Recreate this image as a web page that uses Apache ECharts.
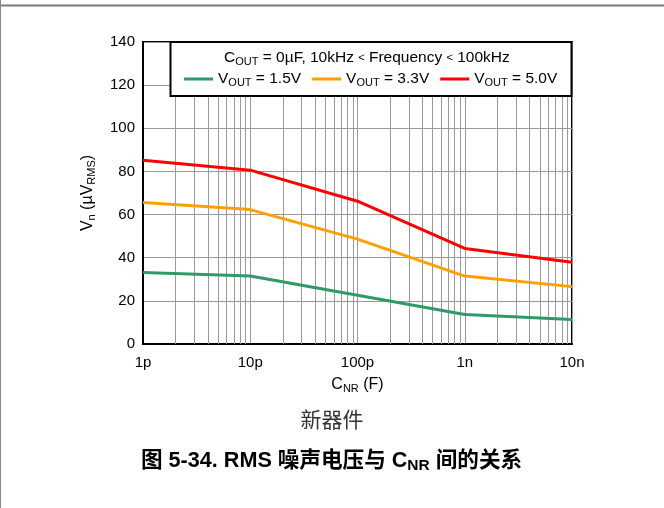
<!DOCTYPE html>
<html>
<head>
<meta charset="utf-8">
<script src="https://cdn.jsdelivr.net/npm/echarts@6/dist/echarts.min.js"></script>
<style>
  html, body { margin: 0; padding: 0; background: #fff; }
  #chart { width: 664px; height: 508px; }
</style>
</head>
<body>
<div id="chart"></div>
<script>
// Noise capacitor values (F) and RMS output noise (µV) for each output voltage
const cnr = [1e-12, 1e-11, 1e-10, 1e-9, 1e-8];
const vout15 = [33.2, 31.5, 22.6, 13.7, 11.4];
const vout33 = [65.6, 62.3, 48.6, 31.5, 26.6];
const vout50 = [85.2, 80.6, 66.2, 44.3, 37.9];

const seriesNames = ['VOUT = 1.5V', 'VOUT = 3.3V', 'VOUT = 5.0V'];
const seriesColors = ['#2e9a68', '#ffa000', '#ff0000'];
const yTicks = [0, 20, 40, 60, 80, 100, 120, 140];
const xTickLabels = { '-12': '1p', '-11': '10p', '-10': '100p', '-9': '1n', '-8': '10n' };

// Minor log gridlines at 2..9 within each decade
const minorGrid = [];
for (let d = -12; d < -8; d++) {
  for (let m = 2; m <= 9; m++) minorGrid.push(m * Math.pow(10, d));
}

const FONT = '"Liberation Sans", Arial, sans-serif';
const GRID_COLOR = '#9a9a9a';

function pairs(ys) { return cnr.map((x, i) => [x, ys[i]]); }

const chart = echarts.init(document.getElementById('chart'), null, { renderer: 'canvas' });

const lineSeries = [vout15, vout33, vout50].map((ys, i) => ({
  name: seriesNames[i],
  type: 'line',
  data: pairs(ys),
  showSymbol: false,
  symbol: 'none',
  z: 5,
  lineStyle: { color: seriesColors[i], width: 3 },
  itemStyle: { color: seriesColors[i] }
}));

function richSet(main, sub, drop) {
  return {
    n: { fontSize: main, fontFamily: FONT, color: '#000' },
    s: { fontSize: sub, fontFamily: FONT, color: '#000', padding: [drop, 0, 0, 0] },
    lt: { fontSize: sub, fontFamily: FONT, color: '#999' }
  };
}
const axisRich = richSet(16, 11, 8);
const legendRich = richSet(15.5, 11, 7);

chart.setOption({
  animation: false,
  backgroundColor: '#fff',
  grid: {
    left: 143, right: 92, top: 42, bottom: 164,
    show: true, borderColor: '#000', borderWidth: 2, backgroundColor: '#fff'
  },
  xAxis: {
    type: 'log',
    logBase: 10,
    min: 1e-12,
    max: 1e-8,
    name: '{n|C}{s|NR}{n| (F)}',
    nameLocation: 'middle',
    nameGap: 31,
    nameTextStyle: { rich: axisRich },
    axisLine: { show: true, lineStyle: { color: '#000', width: 2 } },
    axisTick: { show: false },
    axisLabel: {
      fontSize: 15, fontFamily: FONT, color: '#000', margin: 11,
      formatter: v => xTickLabels[Math.round(Math.log10(v))] || ''
    },
    splitLine: { show: true, lineStyle: { color: GRID_COLOR, width: 1 } }
  },
  yAxis: {
    type: 'value',
    min: yTicks[0],
    max: yTicks[yTicks.length - 1],
    interval: 20,
    name: '{n|V}{s|n}{n| (µV}{s|RMS}{n|)}',
    nameLocation: 'middle',
    nameRotate: 90,
    nameGap: 46,
    nameTextStyle: { rich: axisRich },
    axisLine: { show: true, lineStyle: { color: '#000', width: 2 } },
    axisTick: { show: false },
    axisLabel: { fontSize: 15, fontFamily: FONT, color: '#000', margin: 8 },
    splitLine: { show: true, lineStyle: { color: GRID_COLOR, width: 1 } }
  },
  legend: {
    data: seriesNames,
    left: 179,
    top: 66,
    z: 200,
    itemWidth: 29,
    itemHeight: 3,
    itemGap: 11,
    icon: 'rect',
    formatter: name => {
      const val = name.split('=')[1].trim();
      return '{n|V}{s|OUT}{n| = ' + val + '}';
    },
    textStyle: { rich: legendRich }
  },
  graphic: [
    // page frame
    { type: 'line', shape: { x1: 0, y1: 5.5, x2: 664, y2: 5.5 }, style: { stroke: '#7a7a7a', lineWidth: 2 }, z: 100 },
    { type: 'line', shape: { x1: 0.5, y1: 0, x2: 0.5, y2: 508 }, style: { stroke: '#888', lineWidth: 1 }, z: 100 },
    // legend box
    { type: 'rect', shape: { x: 170.5, y: 42, width: 401, height: 54 },
      style: { fill: '#fff', stroke: '#000', lineWidth: 2 }, z: 50 },
    { type: 'text', left: 224, top: 50, z: 60,
      style: {
        text: '{n|C}{s|OUT}{n| = 0µF, 10kHz }{lt|<}{n| Frequency }{lt|<}{n| 100kHz}',
        rich: legendRich
      } },
    // captions
    { type: 'text', left: 'center', top: 409, z: 60,
      style: { text: '新器件', font: '21px "Noto Sans CJK SC", sans-serif', fill: '#333' } },
    { type: 'text', left: 141, top: 450, z: 60,
      style: {
        text: '{b|图 5-34. RMS 噪声电压与 C}{bs|NR}{b| 间的关系}',
        rich: {
          b: { fontSize: 21.6, fontWeight: 'bold', fontFamily: '"Liberation Sans", "Noto Sans CJK SC", sans-serif', color: '#000' },
          bs: { fontSize: 15.5, fontWeight: 'bold', fontFamily: '"Liberation Sans", sans-serif', color: '#000', padding: [9, 0, 0, 0] }
        }
      } }
  ],
  series: [
    {
      // minor vertical gridlines of the log axis
      name: 'minor-grid',
      type: 'custom',
      silent: true,
      z: 1,
      data: minorGrid,
      renderItem: (params, api) => {
        const x = api.value(0);
        const top = api.coord([x, yTicks[yTicks.length - 1]]);
        const bot = api.coord([x, yTicks[0]]);
        const px = Math.round(top[0]) + 0.5;
        return {
          type: 'line',
          shape: { x1: px, y1: top[1], x2: px, y2: bot[1] },
          style: { stroke: GRID_COLOR, lineWidth: 1 }
        };
      }
    }
  ].concat(lineSeries)
});
</script>
</body>
</html>
